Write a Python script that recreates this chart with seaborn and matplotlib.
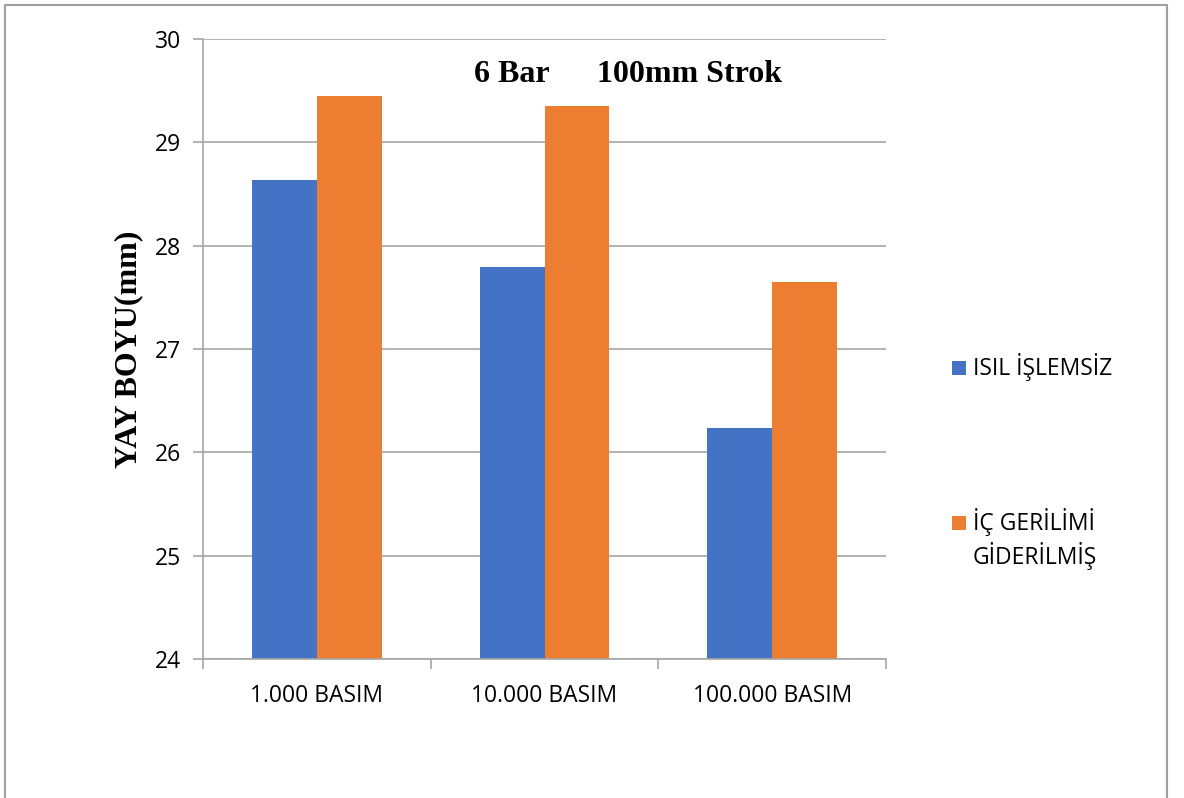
import matplotlib
matplotlib.use("Agg")
import matplotlib.pyplot as plt
from matplotlib.patches import Rectangle
from matplotlib.lines import Line2D
import seaborn as sns
import pandas as pd

categories = ["1.000 BASIM", "10.000 BASIM", "100.000 BASIM"]
series_names = ["ISIL İŞLEMSİZ", "İÇ GERİLİMİ\nGİDERİLMİŞ"]
isil_islemsiz = [28.64, 27.79, 26.24]
ic_gerilimi = [29.45, 29.35, 27.65]
y_ticks = [24, 25, 26, 27, 28, 29, 30]
colors = ["#4472C4", "#ED7D31"]

sns.set_theme(style="white")
plt.rcParams["font.family"] = ["Open Sans", "DejaVu Sans"]
plt.rcParams["text.color"] = "black"

df = pd.DataFrame({
    "kategori": categories * 2,
    "seri": [series_names[0]] * 3 + [series_names[1]] * 3,
    "deger": isil_islemsiz + ic_gerilimi,
})

W, H = 1184, 798
fig = plt.figure(figsize=(W / 100, H / 100), dpi=100)
fig.patch.set_facecolor("white")
ax = fig.add_axes([203 / W, 1 - 659 / H, (886 - 203) / W, (659 - 39) / H])

sns.barplot(data=df, x="kategori", y="deger", hue="seri", palette=colors,
            width=0.57, gap=0, saturation=1, ax=ax, legend=False,
            edgecolor="none", linewidth=0)

grid_col = "#A6A6A6"
ax.set_ylim(24, 30)
ax.set_xlim(-0.5, 2.5)
ax.set_yticks(y_ticks)
ax.set_yticklabels([str(t) for t in y_ticks], fontsize=16.5)
ax.yaxis.grid(True, color=grid_col, linewidth=1.2)
ax.set_axisbelow(True)
ax.tick_params(axis="y", length=7, width=1.2, color=grid_col, pad=9, left=True)
ax.tick_params(axis="x", which="major", length=0, pad=18, labelsize=16.5)
ax.set_xticks([-0.5, 0.5, 1.5, 2.5], minor=True)
ax.tick_params(axis="x", which="minor", length=7, width=1.2, color=grid_col, bottom=True)
for lbl in ax.get_xticklabels() + ax.get_yticklabels():
    lbl.set_color("#000000")

for s in ["top", "right"]:
    ax.spines[s].set_visible(False)
ax.spines["left"].set_color(grid_col)
ax.spines["left"].set_linewidth(1.2)
ax.spines["bottom"].set_color(grid_col)
ax.spines["bottom"].set_linewidth(1.2)

ax.set_xlabel("")
ax.set_ylabel("YAY BOYU(mm)", fontsize=23, fontweight="bold",
              family="Liberation Serif", labelpad=8, color="black")

ax.text(0.622, 0.943, "6 Bar      100mm Strok", transform=ax.transAxes,
        ha="center", va="center", fontsize=23, fontweight="bold",
        family="Liberation Serif", color="black")

# legend: square marker beside the first line of each label
legend_y = [368, 523]
for name, col, yy in zip(series_names, colors, legend_y):
    fig.patches.append(Rectangle((952 / W, 1 - (yy + 7) / H), 14 / W, 14 / H,
                                 transform=fig.transFigure, facecolor=col,
                                 edgecolor="none"))
    fig.text(973 / W, 1 - (yy - 15) / H, name, ha="left", va="top",
             fontsize=16.5, linespacing=1.25, color="black")

# outer chart frame
frame_col = "#A0A0A0"
fig.add_artist(Line2D([5 / W, 5 / W], [0, 1 - 5 / H], transform=fig.transFigure,
                      color=frame_col, linewidth=1.5))
fig.add_artist(Line2D([5 / W, 1167 / W], [1 - 5 / H, 1 - 5 / H],
                      transform=fig.transFigure, color=frame_col, linewidth=1.5))
fig.add_artist(Line2D([1167 / W, 1167 / W], [0, 1 - 5 / H], transform=fig.transFigure,
                      color=frame_col, linewidth=1.5))

fig.savefig("out.png", dpi=100, facecolor="white")
